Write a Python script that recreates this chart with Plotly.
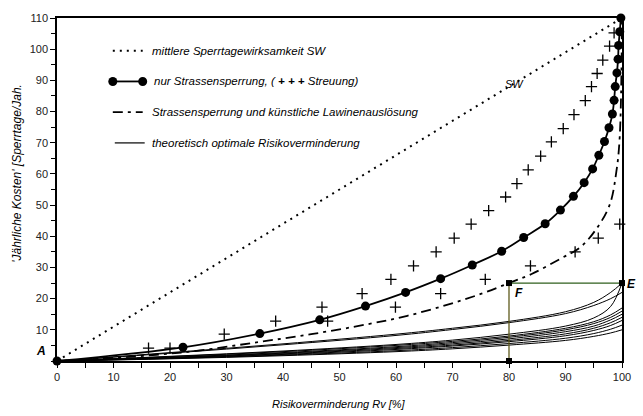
import plotly.graph_objects as go

# --- data -----------------------------------------------------------------
# mittlere Sperrtagewirksamkeit SW (straight reference line)
sw_x = [0, 100]
sw_y = [0, 110]

# nur Strassensperrung (points on the curve)
road_x = [0, 22.3, 35.9, 46.5, 54.6, 61.7, 67.9, 73.5, 78.7, 82.6, 86.4, 89.1, 91.4,
          93.3, 94.8, 95.9, 96.9, 97.7, 98.3, 98.6, 98.8, 99.1, 99.3, 99.4, 99.6, 99.8]
road_y = [0, 4.4, 8.8, 13.2, 17.6, 22.0, 26.4, 30.8, 35.2, 39.6, 44.0, 48.4, 52.8,
          57.2, 61.6, 66.0, 70.4, 74.8, 79.2, 83.6, 88.0, 92.4, 96.8, 101.2, 105.6, 110.0]

# Streuung (+ markers)
scatter_x = [16.2, 20.0, 29.6, 38.7, 47.9, 46.9, 59.9, 54.0, 67.9, 59.1, 75.8, 63.1, 83.8,
             67.1, 91.7, 70.3, 95.8, 73.3, 99.6, 76.4, 79.4, 81.4, 83.4, 85.6, 87.5,
             89.6, 91.5, 93.5, 94.6, 95.6, 96.6, 97.8, 98.6]
scatter_y = [4.1, 4.1, 8.6, 12.8, 12.8, 17.3, 17.3, 21.6, 21.6, 26.2, 26.2, 30.5, 30.5,
             35.0, 35.0, 39.4, 39.4, 43.9, 43.9, 48.2, 52.6, 56.9, 61.3, 65.7, 70.3,
             74.5, 79.0, 83.5, 88.0, 92.2, 96.5, 101.0, 105.2]

# Strassensperrung und künstliche Lawinenauslösung
combo_x = [0, 10, 17.6, 25, 35, 45, 55, 62, 69, 75, 80, 84, 89.3, 92.5, 95.2, 97.8, 99.0, 99.6, 100]
combo_y = [0, 1.0, 2.0, 3.3, 5.9, 8.6, 11.8, 14.5, 18.0, 21.5, 25.0, 27.9, 33.0, 36.3, 41.7,
           50.0, 60.7, 72.0, 110]

# theoretisch optimale Risikoverminderung (family of curves)
opt_x = [0, 20, 40, 60, 70, 80, 90, 95, 98, 100]
opt_curves = [
    [0, 2.7, 5.5, 8.6, 10.5, 12.7, 15.8, 18.8, 22.0, 25.0],
    [0, 2.5, 5.2, 8.2, 10.1, 12.3, 15.2, 17.8, 20.0, 22.0],
    [0, 1.5, 3.2, 5.3, 6.7, 8.6, 11.2, 13.8, 17.5, 25.0],
    [0, 1.4, 3.0, 5.0, 6.3, 8.0, 10.5, 12.6, 14.8, 17.0],
    [0, 1.2, 2.7, 4.6, 5.9, 7.6, 10.0, 12.0, 14.0, 16.0],
    [0, 1.1, 2.5, 4.3, 5.5, 7.1, 9.4, 11.2, 13.2, 15.0],
    [0, 1.0, 2.3, 4.0, 5.1, 6.6, 8.7, 10.5, 12.3, 14.0],
    [0, 0.9, 2.1, 3.7, 4.8, 6.2, 8.1, 9.8, 11.4, 13.0],
    [0, 0.8, 1.9, 3.3, 4.3, 5.6, 7.3, 8.8, 10.2, 11.5],
    [0, 0.7, 1.7, 3.0, 3.9, 5.1, 6.6, 7.9, 9.0, 10.0],
]

# construction points F / E and the foot of F
pts_x = [80, 100, 80]
pts_y = [25, 25, 0]

x_ticks = [0, 10, 20, 30, 40, 50, 60, 70, 80, 90, 100]
y_ticks = [10, 20, 30, 40, 50, 60, 70, 80, 90, 100, 110]

legend_labels = [
    "mittlere Sperrtagewirksamkeit SW",
    "nur Strassensperrung, ( <b>+ + +</b> Streuung)",
    "Strassensperrung und künstliche Lawinenauslösung",
    "theoretisch optimale Risikoverminderung",
]

# --- figure -------------------------------------------------------------------
W, H = 643, 416
L, R, T, B = 57, 19, 15, 55
FONT = "Liberation Sans, Arial, sans-serif"

fig = go.Figure()

for ys in opt_curves:
    fig.add_trace(go.Scatter(x=opt_x, y=ys, mode="lines", line=dict(color="black", width=1),
                             line_shape="spline", hoverinfo="skip", cliponaxis=False))

fig.add_trace(go.Scatter(x=sw_x, y=sw_y, mode="lines",
                         line=dict(color="black", width=2, dash="2px,5px")))

fig.add_trace(go.Scatter(x=combo_x, y=combo_y, mode="lines", line_shape="spline",
                         line=dict(color="black", width=1.8, dash="10px,5px,3px,5px")))

# F-E horizontal and F-foot vertical
fig.add_trace(go.Scatter(x=[pts_x[0], pts_x[1]], y=[pts_y[0], pts_y[1]], mode="lines",
                         line=dict(color="#2f5f1c", width=1.3)))
fig.add_trace(go.Scatter(x=[pts_x[0], pts_x[2]], y=[pts_y[0], pts_y[2]], mode="lines",
                         line=dict(color="#5f5a1c", width=1.3)))

fig.add_trace(go.Scatter(x=scatter_x, y=scatter_y, mode="markers", cliponaxis=False,
                         marker=dict(symbol="cross-thin", size=8,
                                     line=dict(color="black", width=1.3))))

fig.add_trace(go.Scatter(x=road_x, y=road_y, mode="lines+markers", cliponaxis=False,
                         line=dict(color="black", width=1.8, shape="spline"),
                         marker=dict(color="black", size=9)))

fig.add_trace(go.Scatter(x=pts_x, y=pts_y, mode="markers", cliponaxis=False,
                         marker=dict(symbol="square", color="black", size=6)))

# --- hand drawn legend -------------------------------------------------------
pw, ph = W - L - R, H - T - B


def px(xp):
    return (xp - L) / pw


def py(yp):
    return (H - B - yp) / ph


shapes = []
rows = [48, 79, 110, 141]
shapes.append(dict(type="line", xref="paper", yref="paper", x0=px(113), x1=px(143),
                   y0=py(rows[0]), y1=py(rows[0]), line=dict(color="black", width=2, dash="2px,5px")))
shapes.append(dict(type="line", xref="paper", yref="paper", x0=px(113), x1=px(143),
                   y0=py(rows[1]), y1=py(rows[1]), line=dict(color="black", width=1.8)))
for cx in (113, 143):
    shapes.append(dict(type="circle", xref="paper", yref="paper", xsizemode="pixel",
                       ysizemode="pixel", xanchor=px(cx), yanchor=py(rows[1]),
                       x0=-4.5, x1=4.5, y0=-4.5, y1=4.5, fillcolor="black",
                       line=dict(color="black", width=0)))
shapes.append(dict(type="line", xref="paper", yref="paper", x0=px(113), x1=px(143),
                   y0=py(rows[2]), y1=py(rows[2]),
                   line=dict(color="black", width=1.8, dash="10px,5px,3px,5px")))
shapes.append(dict(type="line", xref="paper", yref="paper", x0=px(115), x1=px(145),
                   y0=py(rows[3]), y1=py(rows[3]), line=dict(color="black", width=1.2)))

annotations = []
for yrow, xs, lab in zip(rows, [150, 152, 150, 150], legend_labels):
    annotations.append(dict(xref="paper", yref="paper", x=px(xs), y=py(yrow),
                            xanchor="left", yanchor="middle", showarrow=False,
                            text="<i>" + lab + "</i>", font=dict(family=FONT, size=11.5, color="black")))

# point labels
annotations += [
    dict(x=0, y=0, xref="x", yref="y", text="<b><i>A</i></b>", showarrow=False,
         xanchor="right", xshift=-9, yshift=10, font=dict(family=FONT, size=12, color="black")),
    dict(x=pts_x[0], y=pts_y[0], xref="x", yref="y", text="<b><i>F</i></b>", showarrow=False,
         xanchor="left", xshift=4, yshift=-10, font=dict(family=FONT, size=12, color="black")),
    dict(x=pts_x[1], y=pts_y[1], xref="x", yref="y", text="<b><i>E</i></b>", showarrow=False,
         xanchor="left", xshift=3, yshift=-1, font=dict(family=FONT, size=12, color="black")),
    dict(x=81, y=88.8, xref="x", yref="y", text="<i>SW</i>", showarrow=False,
         xanchor="center", font=dict(family=FONT, size=11, color="black")),
    dict(xref="paper", yref="paper", x=px(340), y=py(404), text="<i>Risikoverminderung Rv [%]</i>",
         showarrow=False, xanchor="center", yanchor="middle",
         font=dict(family=FONT, size=11, color="black")),
    dict(xref="paper", yref="paper", x=px(16), y=py(172), textangle=-90,
         text="<i>'Jährliche Kosten' [Sperrtage/Jah.</i>", showarrow=False,
         xanchor="center", yanchor="middle", font=dict(family=FONT, size=12, color="black")),
]

fig.update_layout(
    width=W, height=H,
    margin=dict(l=L, r=R, t=T, b=B),
    plot_bgcolor="white", paper_bgcolor="white",
    showlegend=False,
    shapes=shapes, annotations=annotations,
    font=dict(family=FONT, size=11, color="#222"),
)
fig.update_xaxes(range=[0, 100], tickvals=x_ticks, showgrid=False, zeroline=False,
                 showline=True, linecolor="black", linewidth=1.5, mirror=True,
                 ticks="outside", ticklen=5, tickcolor="black",
                 minor=dict(dtick=5, ticks="outside", ticklen=5, tickcolor="black"),
                 tickfont=dict(family=FONT, size=11, color="#222"))
fig.update_yaxes(range=[0, 110], tickvals=y_ticks, showgrid=False, zeroline=False,
                 showline=True, linecolor="black", linewidth=1.5, mirror=True,
                 ticks="outside", ticklen=5, tickcolor="black",
                 minor=dict(dtick=5, ticks="outside", ticklen=4, tickcolor="black"),
                 tickfont=dict(family=FONT, size=11, color="#222"))

fig.write_html("out.html")
